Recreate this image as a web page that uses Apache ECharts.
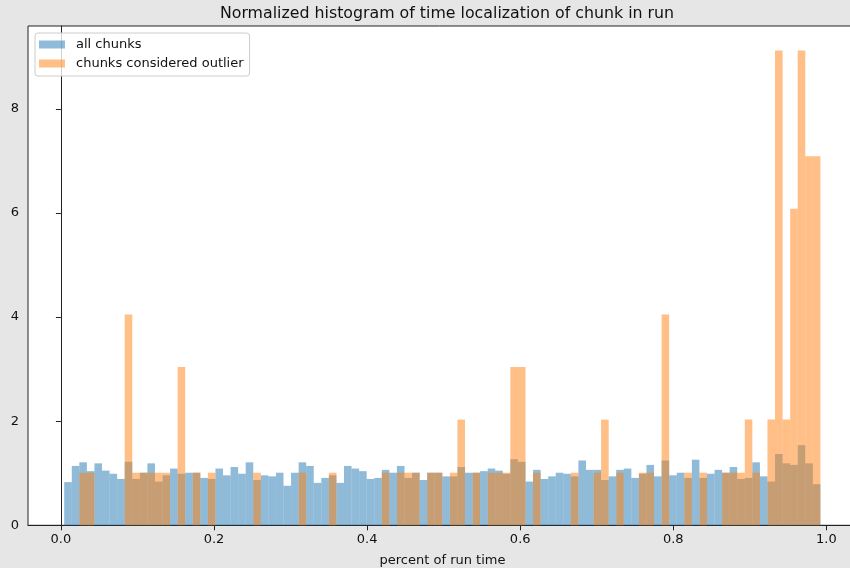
<!DOCTYPE html>
<html>
<head>
<meta charset="utf-8">
<title>Normalized histogram of time localization of chunk in run</title>
<script src="https://cdn.jsdelivr.net/npm/echarts@6/dist/echarts.min.js"></script>
<style>
  html, body { margin: 0; padding: 0; background: #e6e6e6; }
  #chart { width: 850px; height: 568px; }
</style>
</head>
<body>
<div id="chart"></div>
<script>
// Histogram range shared by both series: 100 equal bins
const binStart = 0.0043;
const binEnd = 0.9922;
const binCount = 100;

// Density of all chunks per bin
const allChunks = [
  0.83, 1.14, 1.21, 1.04, 1.19, 1.05, 0.99, 0.89, 1.22, 0.89,
  1.01, 1.19, 0.84, 0.96, 1.09, 0.99, 1.01, 1.01, 0.91, 0.89,
  1.09, 0.96, 1.12, 0.99, 1.21, 0.87, 0.96, 0.94, 1.01, 0.76,
  1.01, 1.21, 1.14, 0.815, 0.91, 0.96, 0.815, 1.14, 1.09, 1.04,
  0.89, 0.91, 1.065, 1.01, 1.14, 0.91, 1.01, 0.87, 1.01, 1.01,
  0.94, 0.94, 1.12, 1.01, 1.01, 1.04, 1.09, 1.05, 0.99, 1.27,
  1.22, 0.84, 1.065, 0.89, 0.94, 1.01, 0.99, 0.94, 1.245, 1.065,
  1.065, 0.87, 0.94, 1.065, 1.09, 0.91, 0.99, 1.16, 0.94, 1.245,
  0.96, 1.01, 0.91, 1.26, 0.91, 0.99, 1.065, 1.01, 1.12, 0.89,
  0.91, 1.21, 0.94, 0.84, 1.37, 1.19, 1.16, 1.54, 1.19, 0.79
];

// Density of chunks considered outlier per bin (0 = empty bin)
const outlierChunks = [
  0, 0, 1.01, 1.01, 0, 0, 0, 0, 4.05, 1.01,
  1.01, 1.01, 1.01, 1.01, 0, 3.04, 0, 1.01, 0, 1.01,
  0, 0, 0, 0, 0, 1.01, 0, 0, 0, 0,
  0, 1.01, 0, 0, 0, 1.01, 0, 0, 0, 0,
  0, 0, 1.01, 0, 1.01, 1.01, 1.01, 0, 1.01, 1.01,
  0, 1.01, 2.03, 0, 1.01, 0, 1.01, 1.01, 1.01, 3.04,
  3.04, 0, 1.01, 0, 0, 0, 0, 1.01, 0, 0,
  1.01, 2.03, 0, 1.01, 0, 0, 1.01, 1.01, 0, 4.05,
  0, 0, 1.01, 0, 1.01, 0, 0, 1.01, 1.01, 1.01,
  2.03, 1.01, 0, 2.03, 9.12, 2.03, 6.08, 9.12, 7.09, 7.09
];

const xTicks = [0, 0.2, 0.4, 0.6, 0.8, 1.0];
const yTicks = [0, 2, 4, 6, 8];

const binWidth = (binEnd - binStart) / binCount;

function toBins(values) {
  const out = [];
  values.forEach(function (v, i) {
    if (v > 0) {
      out.push([binStart + i * binWidth, binStart + (i + 1) * binWidth, v]);
    }
  });
  return out;
}

function renderBin(params, api) {
  const base = api.coord([api.value(0), 0]);
  const top = api.coord([api.value(1), api.value(2)]);
  return {
    type: 'rect',
    shape: { x: base[0], y: top[1], width: top[0] - base[0], height: base[1] - top[1] },
    style: { fill: api.visual('color') }
  };
}

const blue = 'rgba(31,119,180,0.5)';
const orange = 'rgba(255,127,14,0.5)';
const font = 'DejaVu Sans';

const chart = echarts.init(document.getElementById('chart'), null, { renderer: 'canvas' });

chart.setOption({
  backgroundColor: '#e6e6e6',
  animation: false,
  title: {
    text: 'Normalized histogram of time localization of chunk in run',
    left: 442, textAlign: 'center',
    top: 1,
    textStyle: { fontFamily: font, fontSize: 15.8, fontWeight: 'normal', color: '#111' }
  },
  legend: {
    left: 35, top: 33,
    orient: 'vertical',
    padding: [4, 6, 5, 4],
    itemWidth: 26, itemHeight: 8,
    itemGap: 4,
    backgroundColor: 'rgba(255,255,255,0.8)',
    borderColor: '#cccccc', borderWidth: 1, borderRadius: 3,
    textStyle: { fontFamily: font, fontSize: 13, color: '#111', lineHeight: 15, padding: [0, 0, 0, 6] },
    data: [
      { name: 'all chunks', icon: 'rect', itemStyle: { color: blue } },
      { name: 'chunks considered outlier', icon: 'rect', itemStyle: { color: orange } }
    ]
  },
  grid: {
    left: 28, top: 26, width: 829, height: 499.3,
    outerBoundsMode: 'none',
    containLabel: false,
    show: true, backgroundColor: '#ffffff', borderColor: '#222', borderWidth: 1
  },
  xAxis: {
    type: 'value', min: -0.043, max: 1.04,
    name: 'percent of run time', nameLocation: 'middle', nameGap: 29,
    nameTextStyle: { fontFamily: font, fontSize: 13, color: '#111' },
    axisLine: { show: true, lineStyle: { color: '#222', width: 1 } },
    axisTick: { show: true, length: 5, lineStyle: { color: '#222' }, customValues: xTicks },
    axisLabel: {
      fontFamily: font, fontSize: 13, color: '#111', margin: 8,
      customValues: xTicks,
      formatter: function (v) { return v.toFixed(1); }
    },
    splitLine: { show: false }
  },
  yAxis: {
    type: 'value', min: 0, max: 9.59,
    axisLine: { show: true, lineStyle: { color: '#222', width: 1 } },
    axisTick: { show: true, length: 5, lineStyle: { color: '#222' }, customValues: yTicks },
    axisLabel: {
      fontFamily: font, fontSize: 13, color: '#111', margin: 9,
      customValues: yTicks
    },
    splitLine: { show: false }
  },
  series: [
    {
      name: 'all chunks', type: 'custom',
      itemStyle: { color: blue },
      encode: { x: [0, 1], y: 2 },
      renderItem: renderBin,
      data: toBins(allChunks)
    },
    {
      name: 'chunks considered outlier', type: 'custom',
      itemStyle: { color: orange },
      encode: { x: [0, 1], y: 2 },
      renderItem: renderBin,
      data: toBins(outlierChunks)
    }
  ]
});
</script>
</body>
</html>
